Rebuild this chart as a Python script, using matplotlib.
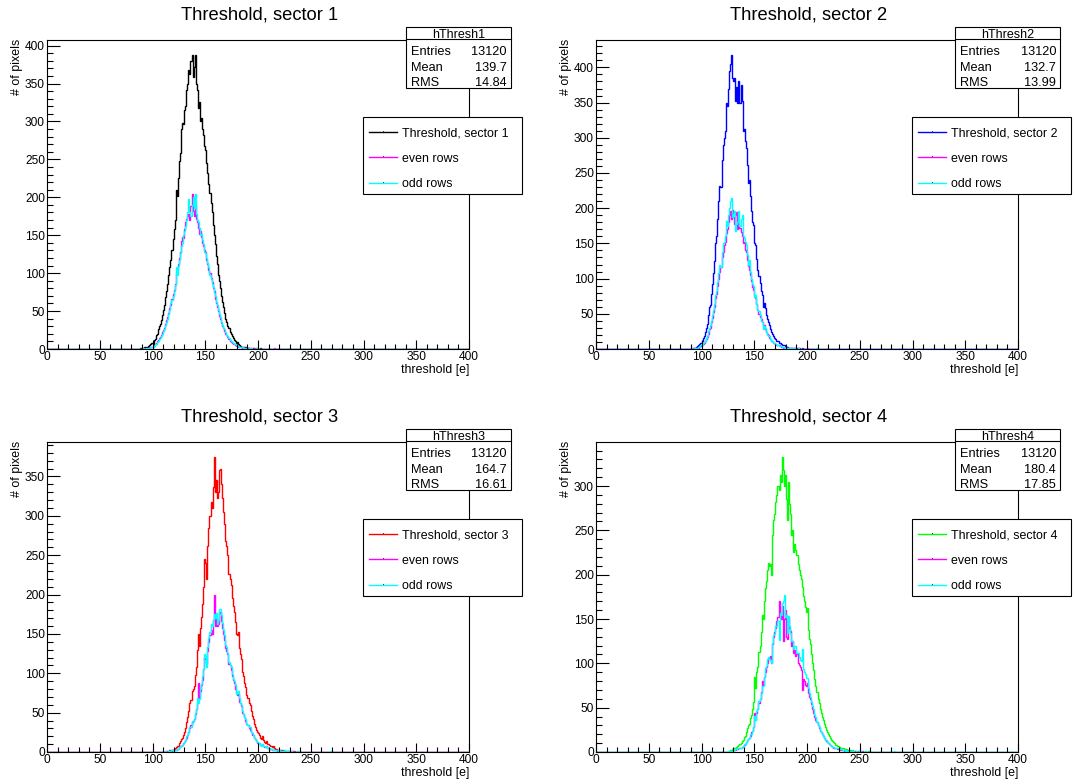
import numpy as np
import matplotlib

matplotlib.use("Agg")
import matplotlib.pyplot as plt
from matplotlib.patches import Rectangle
from matplotlib.ticker import MultipleLocator

plt.rcParams["font.family"] = ["Liberation Sans", "DejaVu Sans"]

W, H = 1075, 784
N_BINS = 400

TITLES = ["Threshold, sector 1", "Threshold, sector 2",
          "Threshold, sector 3", "Threshold, sector 4"]
HIST_NAMES = ["hThresh1", "hThresh2", "hThresh3", "hThresh4"]
ENTRIES = ["13120", "13120", "13120", "13120"]
MEANS = ["139.7", "132.7", "164.7", "180.4"]
RMS = ["14.84", "13.99", "16.61", "17.85"]
SECTOR_COLORS = ["#000000", "#0000ff", "#ff0000", "#00ff00"]
EVEN_COLOR = "#ff00ff"
ODD_COLOR = "#00ffff"

# bin contents (1 e per bin), each list starts at bin S*_START
S1_START = 88
S1_ALL = [1, 0, 1, 1, 2, 2, 3, 2, 4, 5, 6, 8,
          7, 12, 13, 18, 20, 26, 30, 33, 38, 45,
          52, 58, 68, 76, 86, 97, 108, 118, 130, 145,
          158, 170, 210, 202, 225, 248, 258, 290, 298, 296,
          315, 320, 342, 350, 368, 362, 380, 388, 358, 372,
          388, 350, 342, 318, 326, 300, 305, 290, 282, 268,
          262, 245, 232, 218, 206, 192, 180, 164, 150, 138,
          122, 112, 98, 90, 80, 70, 62, 55, 47, 40,
          36, 30, 28, 22, 20, 17, 14, 12, 10, 8,
          9, 6, 5, 4, 3, 3, 2, 2, 1, 2,
          1, 1, 0, 1, 0, 1, 0, 0, 1, 0, 0, 0, 1]
S1_EVEN = [0, 0, 1, 0, 0, 1, 1, 0, 1, 2, 2, 2,
           3, 5, 6, 8, 10, 12, 14, 16, 18, 22,
           25, 28, 33, 38, 42, 48, 54, 58, 66, 72,
           78, 86, 100, 104, 112, 120, 128, 142, 148, 146,
           158, 168, 172, 175, 178, 170, 188, 205, 182, 176,
           190, 172, 168, 160, 152, 156, 148, 140, 136, 130,
           128, 118, 112, 104, 100, 94, 88, 80, 76, 66,
           60, 56, 50, 44, 40, 34, 30, 28, 24, 20,
           18, 16, 13, 10, 9, 8, 7, 6, 5, 4,
           4, 3, 3, 2, 2, 1, 2, 1, 1, 0,
           1, 0, 1, 0, 0, 0, 1, 0, 0, 0, 0, 0,
           0, 0, 0, 0, 0, 0, 0, 0, 0, 0, 0, 0, 0, 1]
S1_ODD = [0, 0, 0, 1, 0, 0, 1, 1, 1, 1, 2, 3,
          3, 4, 6, 7, 9, 11, 13, 15, 17, 20,
          24, 27, 31, 36, 40, 46, 52, 60, 64, 70,
          76, 84, 108, 98, 110, 118, 126, 136, 140, 150,
          156, 162, 170, 180, 198, 180, 176, 190, 200, 186,
          205, 178, 170, 168, 160, 150, 152, 144, 138, 128,
          126, 120, 114, 108, 98, 92, 86, 82, 74, 70,
          62, 58, 52, 46, 42, 36, 32, 28, 26, 22,
          19, 17, 14, 12, 10, 9, 8, 6, 6, 5,
          4, 4, 3, 3, 2, 2, 1, 1, 1, 1,
          0, 1, 0, 1, 0, 0, 0, 0, 1, 0, 0, 0]

S2_START = 88
S2_ALL = [0, 0, 1, 0, 1, 1, 2, 3, 4, 5, 7, 9,
          12, 15, 18, 24, 30, 36, 48, 60, 62, 78,
          92, 108, 125, 150, 160, 185, 210, 232, 230, 268,
          290, 300, 310, 350, 345, 370, 395, 405, 418, 385,
          380, 385, 352, 372, 350, 380, 350, 375, 352, 310,
          312, 295, 285, 262, 236, 240, 218, 196, 180, 176,
          150, 148, 128, 112, 104, 94, 82, 76, 60, 66,
          58, 48, 42, 38, 34, 28, 24, 22, 18, 16,
          14, 12, 11, 9, 8, 7, 6, 5, 5, 4,
          3, 3, 2, 2, 2, 1, 1, 1, 2, 1,
          1, 0, 1, 0, 0, 1]
S2_EVEN = [0, 0, 0, 0, 1, 0, 1, 1, 2, 2, 3, 4,
           5, 7, 8, 11, 14, 17, 22, 28, 30, 38,
           44, 52, 60, 72, 78, 90, 100, 110, 116, 130,
           138, 148, 152, 165, 170, 180, 190, 196, 185, 197,
           188, 178, 190, 195, 170, 180, 172, 166, 160, 150,
           152, 140, 138, 126, 118, 112, 105, 96, 88, 84,
           76, 72, 64, 56, 50, 46, 42, 38, 32, 34,
           28, 24, 22, 20, 16, 14, 12, 11, 9, 8,
           7, 6, 5, 5, 4, 3, 3, 2, 2, 2,
           2, 1, 1, 1, 1, 1, 0, 1, 0, 0,
           0, 1, 0, 0, 0, 0, 0, 0, 0, 0, 1]
S2_ODD = [0, 0, 1, 0, 0, 1, 1, 2, 2, 3, 3, 5,
          6, 8, 10, 12, 15, 19, 25, 30, 34, 40,
          48, 56, 64, 76, 82, 95, 108, 120, 116, 138,
          150, 152, 160, 182, 175, 190, 200, 210, 215, 188,
          192, 196, 168, 178, 180, 196, 175, 184, 190, 160,
          158, 152, 148, 134, 120, 126, 110, 100, 92, 90,
          74, 76, 64, 56, 54, 48, 40, 38, 28, 32,
          30, 24, 20, 18, 18, 14, 12, 11, 9, 8,
          7, 6, 6, 4, 4, 4, 3, 3, 2, 2,
          1, 2, 1, 1, 1, 0, 1, 0, 1, 0,
          0, 1, 0, 0, 0, 0, 0, 0, 0, 0,
          0, 0, 0, 0, 0, 0, 0, 0, 0, 1]

S3_START = 110
S3_ALL = [0, 0, 1, 0, 1, 1, 2, 2, 3, 3,
          4, 5, 6, 8, 8, 12, 14, 16, 18, 22,
          26, 30, 38, 44, 52, 62, 66, 78, 80, 84,
          98, 108, 130, 150, 135, 158, 172, 188, 210, 245,
          240, 220, 262, 285, 300, 318, 310, 336, 375, 330,
          346, 322, 330, 358, 360, 340, 322, 305, 290, 268,
          262, 250, 226, 220, 212, 195, 185, 178, 165, 150,
          148, 152, 132, 124, 118, 102, 96, 88, 82, 72,
          68, 62, 60, 52, 46, 42, 36, 32, 28, 25,
          24, 22, 18, 17, 20, 15, 13, 12, 14, 10,
          9, 8, 8, 6, 7, 5, 4, 4, 3, 3,
          3, 2, 2, 2, 1, 2, 1, 1, 1, 1,
          0, 1, 1, 0, 1, 0, 0, 1, 0, 0]
S3_EVEN = [0, 0, 0, 1, 0, 0, 1, 1, 1, 2,
           2, 3, 3, 4, 4, 6, 7, 8, 9, 11,
           13, 15, 18, 22, 26, 30, 34, 38, 40, 42,
           48, 54, 62, 88, 68, 78, 85, 92, 105, 120,
           118, 112, 128, 140, 148, 155, 150, 168, 200, 160,
           170, 160, 162, 176, 178, 166, 158, 150, 142, 132,
           128, 124, 112, 110, 104, 96, 92, 88, 80, 76,
           72, 74, 64, 62, 58, 50, 48, 44, 40, 36,
           34, 30, 28, 26, 22, 21, 18, 16, 14, 12,
           12, 11, 9, 9, 10, 7, 6, 6, 7, 5,
           4, 4, 4, 3, 3, 2, 2, 2, 1, 2,
           1, 1, 1, 1, 1, 0, 1, 0, 1, 0,
           0, 0, 1, 0, 0, 0, 0, 0, 0, 0]
S3_ODD = [0, 0, 1, 0, 0, 1, 1, 1, 2, 1,
          2, 2, 3, 4, 4, 6, 7, 8, 9, 11,
          13, 15, 20, 22, 26, 32, 32, 40, 40, 42,
          50, 54, 68, 62, 67, 80, 87, 96, 105, 125,
          122, 108, 134, 145, 152, 163, 160, 168, 175, 170,
          176, 162, 168, 182, 182, 174, 164, 155, 148, 136,
          134, 126, 114, 110, 108, 99, 93, 90, 85, 74,
          76, 78, 68, 62, 60, 52, 48, 44, 42, 36,
          34, 32, 32, 26, 24, 21, 18, 16, 14, 13,
          12, 11, 9, 8, 10, 8, 7, 6, 7, 5,
          5, 4, 4, 3, 4, 3, 2, 2, 2, 1,
          2, 1, 1, 1, 0, 2, 0, 1, 0, 1,
          0, 1, 0, 0, 0, 0, 0, 1, 0, 0,
          0, 0, 0, 0, 0, 0, 0, 0, 0, 0,
          0, 0, 0, 0, 0, 0, 0, 0, 0, 0,
          0, 0, 0, 0, 0, 0, 0, 0, 1]

S4_START = 125
S4_ALL = [1, 1, 2, 2, 3,
          4, 4, 5, 6, 7, 8, 9, 10, 12, 14,
          17, 18, 22, 27, 30, 32, 38, 42, 48, 56,
          85, 72, 90, 96, 113, 120, 135, 155, 150, 170,
          185, 193, 205, 213, 210, 212, 200, 245, 262, 268,
          282, 290, 300, 296, 312, 305, 333, 318, 300, 312,
          285, 262, 305, 280, 268, 245, 250, 226, 235, 228,
          222, 212, 205, 200, 195, 186, 176, 170, 164, 158,
          162, 138, 128, 122, 110, 100, 92, 82, 75, 68,
          60, 55, 48, 44, 40, 36, 32, 28, 25, 22,
          20, 18, 16, 14, 12, 11, 10, 8, 7, 7,
          6, 5, 5, 4, 4, 3, 3, 3, 2, 2,
          2, 2, 1, 2, 1, 1, 1, 0, 1, 1,
          1, 0, 1, 0, 0, 1, 0, 0, 1, 0]
S4_EVEN = [0, 1, 0, 1, 1,
           2, 2, 2, 3, 3, 4, 4, 5, 6, 7,
           8, 9, 11, 13, 15, 16, 18, 22, 24, 28,
           44, 36, 44, 48, 55, 60, 68, 80, 76, 85,
           90, 96, 100, 106, 105, 108, 100, 122, 130, 135,
           140, 148, 152, 170, 155, 150, 165, 125, 150, 160,
           130, 128, 152, 140, 136, 120, 125, 112, 115, 108,
           110, 100, 98, 96, 92, 70, 82, 80, 76, 74,
           78, 66, 62, 60, 54, 48, 44, 40, 36, 34,
           30, 27, 24, 22, 20, 18, 16, 14, 12, 11,
           10, 9, 8, 7, 6, 5, 5, 4, 3, 3,
           3, 2, 2, 2, 2, 1, 2, 1, 1, 1,
           1, 1, 0, 1, 0, 1, 0, 0, 1, 0,
           0, 0, 1, 0, 0, 0, 0, 0, 0, 0]
S4_ODD = [1, 0, 1, 1, 1,
          2, 2, 3, 3, 4, 4, 5, 5, 6, 7,
          9, 9, 11, 14, 15, 16, 20, 20, 24, 28,
          41, 36, 46, 48, 58, 60, 67, 75, 74, 85,
          95, 97, 105, 107, 105, 104, 100, 123, 132, 133,
          142, 142, 148, 126, 157, 155, 168, 170, 177, 152,
          155, 134, 153, 142, 134, 125, 125, 116, 120, 120,
          112, 112, 107, 104, 103, 116, 94, 90, 88, 84,
          84, 72, 66, 62, 56, 52, 48, 42, 39, 34,
          30, 28, 24, 22, 20, 18, 16, 14, 13, 11,
          10, 9, 8, 7, 6, 6, 5, 4, 4, 4,
          3, 3, 3, 2, 2, 2, 1, 2, 1, 1,
          1, 1, 1, 1, 1, 0, 1, 0, 0, 1,
          1, 0, 0, 0, 0, 1, 0, 0, 0, 0,
          0, 0, 0, 0, 0, 0, 0, 0, 0, 0,
          0, 0, 0, 0, 0, 0, 0, 0, 0, 0, 0, 0, 1]

SECTORS = [
    (S1_START, S1_ALL, S1_EVEN, S1_ODD),
    (S2_START, S2_ALL, S2_EVEN, S2_ODD),
    (S3_START, S3_ALL, S3_EVEN, S3_ODD),
    (S4_START, S4_ALL, S4_EVEN, S4_ODD),
]

# frame boxes in pixels: left, top, right, bottom
FRAMES = [(47, 40, 469, 349), (596, 40, 1018, 349),
          (47, 442, 469, 752), (596, 442, 1018, 752)]


def full_hist(start, values):
    h = np.zeros(N_BINS)
    h[start:start + len(values)] = values
    return h


fig = plt.figure(figsize=(W / 100, H / 100), dpi=100)
edges = np.arange(N_BINS + 1)

for i, (start, h_all, h_even, h_odd) in enumerate(SECTORS):
    L, T, R, B = FRAMES[i]
    ax = fig.add_axes([L / W, 1 - B / H, (R - L) / W, (B - T) / H])
    y_all = full_hist(start, h_all)
    ax.stairs(y_all, edges, color=SECTOR_COLORS[i], lw=1)
    ax.stairs(full_hist(start, h_even), edges, color=EVEN_COLOR, lw=1)
    ax.stairs(full_hist(start, h_odd), edges, color=ODD_COLOR, lw=1)
    ax.set_xlim(0, 400)
    ax.set_ylim(0, 1.05 * y_all.max())
    ax.xaxis.set_major_locator(MultipleLocator(50))
    ax.xaxis.set_minor_locator(MultipleLocator(10))
    ax.yaxis.set_major_locator(MultipleLocator(50))
    ax.yaxis.set_minor_locator(MultipleLocator(10))
    ax.tick_params(axis="x", which="major", direction="in", length=6.7, width=0.8,
                   labelsize=8.6, pad=1.5, top=False)
    ax.tick_params(axis="x", which="minor", direction="in", length=3.3, width=0.8, top=False)
    ax.tick_params(axis="y", which="major", direction="in", length=9.1, width=0.8,
                   labelsize=8.6, pad=1.5, right=False)
    ax.tick_params(axis="y", which="minor", direction="in", length=4.6, width=0.8, right=False)
    for sp in ax.spines.values():
        sp.set_linewidth(0.8)

# overlay for titles, stats boxes and legends, in pixel coordinates
ov = fig.add_axes([0, 0, 1, 1])
ov.set_xlim(0, W)
ov.set_ylim(H, 0)
ov.axis("off")
ov.patch.set_alpha(0)
ov.set_zorder(10)

for i in range(4):
    L, T, R, B = FRAMES[i]
    ov.text((L + R) / 2 + 2, T - 25, TITLES[i], ha="center", va="center", fontsize=13.2)
    ov.text(R, B + 21, "threshold [e]", ha="right", va="center", fontsize=8.9)
    ov.text(L - 30, T - 1, "# of pixels", ha="center", va="top", rotation=90, fontsize=8.9)

    # stats box
    ov.add_patch(Rectangle((R - 63, T - 13), 105, 61, fc="white", ec="black", lw=0.8))
    ov.plot([R - 63, R + 42], [T - 1, T - 1], color="black", lw=0.8)
    ov.text(R - 10.5, T - 2.5, HIST_NAMES[i], ha="center", va="baseline", fontsize=9)
    rows = [("Entries", ENTRIES[i]), ("Mean", MEANS[i]), ("RMS", RMS[i])]
    for k, (lab, val) in enumerate(rows):
        yy = T + 15 + k * 15.5
        ov.text(R - 58, yy, lab, ha="left", va="baseline", fontsize=9.2)
        ov.text(R + 38, yy, val, ha="right", va="baseline", fontsize=9.2)

    # legend
    ov.add_patch(Rectangle((R - 106, T + 77), 159, 77, fc="white", ec="black", lw=0.8))
    entries = [(TITLES[i], SECTOR_COLORS[i]), ("even rows", EVEN_COLOR),
               ("odd rows", ODD_COLOR)]
    for k, (lab, col) in enumerate(entries):
        yy = T + 92 + k * 25.3
        ov.plot([R - 100, R - 72], [yy, yy], color=col, lw=1)
        ov.plot([R - 86], [yy], marker=",", color="#404040")
        ov.text(R - 67, yy + 4.5, lab, ha="left", va="baseline", fontsize=8.9)

fig.savefig("out.png", dpi=100)
